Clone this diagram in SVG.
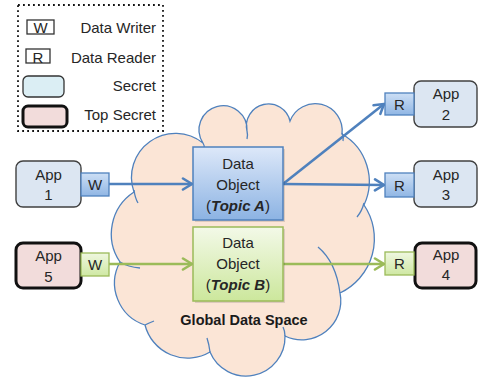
<svg xmlns="http://www.w3.org/2000/svg" width="478" height="379" viewBox="0 0 478 379">
<defs>
<linearGradient id="gBlue" x1="0" y1="0" x2="0" y2="1"><stop offset="0" stop-color="#dde8f9"/><stop offset="1" stop-color="#8cb3e3"/></linearGradient>
<linearGradient id="gGreen" x1="0" y1="0" x2="0" y2="1"><stop offset="0" stop-color="#f3f9e8"/><stop offset="1" stop-color="#cce79c"/></linearGradient>
<linearGradient id="gBlueS" x1="0" y1="0" x2="0" y2="1"><stop offset="0" stop-color="#cddff5"/><stop offset="1" stop-color="#90b6e4"/></linearGradient>
<linearGradient id="gGreenS" x1="0" y1="0" x2="0" y2="1"><stop offset="0" stop-color="#eff7e0"/><stop offset="1" stop-color="#cfe8a3"/></linearGradient>
<marker id="aBlue" markerUnits="userSpaceOnUse" markerWidth="14" markerHeight="14" viewBox="-12 -7 14 14" refX="0" refY="0" orient="auto"><path d="M-9,-5.5 L0,0 L-9,5.5" fill="none" stroke="#4f81bd" stroke-width="2.6" stroke-linejoin="miter" stroke-linecap="round"/></marker>
<marker id="aGreen" markerUnits="userSpaceOnUse" markerWidth="14" markerHeight="14" viewBox="-12 -7 14 14" refX="0" refY="0" orient="auto"><path d="M-9,-5.5 L0,0 L-9,5.5" fill="none" stroke="#9bbb59" stroke-width="2.6" stroke-linejoin="miter" stroke-linecap="round"/></marker>
</defs>
<style>
text{font-family:"Liberation Sans",Arial,sans-serif;fill:#262626;}
.t15{font-size:15px;text-anchor:middle;}
.leg{font-size:15px;text-anchor:end;}
.app{fill:#dce6f2;stroke:#404040;stroke-width:1.4;}
.top{fill:#f2dcdb;stroke:#111;stroke-width:3;}
.bw{fill:url(#gBlueS);stroke:#4f81bd;stroke-width:1.3;}
.gw{fill:url(#gGreenS);stroke:#9bbb59;stroke-width:1.3;}
.hook{fill:none;stroke:#4f81bd;stroke-width:1.3;}
.cb{stroke:#4f81bd;stroke-width:2.6;fill:none;}
.cg{stroke:#9bbb59;stroke-width:2.6;fill:none;}
.shadow{fill:#000;opacity:0.12;}
</style>
<rect width="478" height="379" fill="#fff"/>

<g id="legend">
<rect x="18" y="5" width="145" height="126" fill="none" stroke="#111" stroke-width="1.8" stroke-dasharray="1.8 3.2"/>
<rect x="27" y="20" width="27" height="14" fill="#fff" stroke="#333" stroke-width="1.3"/>
<text x="40.5" y="32.5" style="font-size:15px;text-anchor:middle">W</text>
<text class="leg" x="156" y="33">Data Writer</text>
<rect x="26" y="49" width="24" height="14" fill="#fff" stroke="#333" stroke-width="1.3"/>
<text x="38" y="62.5" style="font-size:15px;text-anchor:middle">R</text>
<text class="leg" x="156" y="63">Data Reader</text>
<rect x="23" y="76" width="41" height="21" rx="5" fill="#dbeef4" stroke="#333" stroke-width="1.3"/>
<text class="leg" x="156" y="91">Secret</text>
<rect x="23" y="106" width="44" height="21" rx="5" fill="#f2dcdb" stroke="#111" stroke-width="3"/>
<text class="leg" x="156" y="120">Top Secret</text>
</g>

<g id="cloud">
<path d="M134,192 A44,44 0 0 1 203,143 A24,24 0 1 1 247,131 A22,22 0 0 1 290,121 A27,27 0 0 1 342,134 A55,55 0 0 1 364,205 A60,60 0 0 1 340,293 A39,39 0 0 1 285,336 A39,39 0 0 1 210,352 A44,44 0 0 1 145,325 A44,44 0 0 1 120,262 A50,50 0 0 1 134,192 Z" fill="#fbe5d6" stroke="#4f81bd" stroke-width="1.3"/>
<path class="hook" d="M134,190 Q135,198 138,203"/>
<path class="hook" d="M120,262 Q128,267 140,268"/>
<path class="hook" d="M145,325 Q149,323 154,321"/>
<path class="hook" d="M210,352 Q209,344 207,338"/>
<path class="hook" d="M285,336 Q285,331 283,327"/>
<path class="hook" d="M340,293 Q336,262 318,247"/>
<path class="hook" d="M364,203 Q362,211 357,217"/>
<path class="hook" d="M342,133 Q344,137 343,141"/>
<path class="hook" d="M247,131 Q248,135 247,139"/>
<path class="hook" d="M203,143 Q205,146 204,149"/>
<text x="244" y="325" style="font-size:14.5px;font-weight:bold;text-anchor:middle;fill:#1a1a1a">Global Data Space</text>
</g>

<g id="connectors">
<line class="cb" x1="109" y1="184" x2="192" y2="184" marker-end="url(#aBlue)"/>
<line class="cg" x1="109" y1="264" x2="192" y2="264" marker-end="url(#aGreen)"/>
<line class="cb" x1="283" y1="184" x2="384" y2="104" marker-end="url(#aBlue)"/>
<line class="cb" x1="283" y1="184" x2="384" y2="185" marker-end="url(#aBlue)"/>
<line class="cg" x1="283" y1="264" x2="384" y2="264" marker-end="url(#aGreen)"/>
</g>

<g id="topicA">
<rect class="shadow" x="195" y="149" width="90" height="73"/>
<rect x="193" y="147" width="90" height="73" fill="url(#gBlue)" stroke="#4f81bd" stroke-width="1.5"/>
<text class="t15" x="238" y="169">Data</text>
<text class="t15" x="238" y="190">Object</text>
<text class="t15" x="238" y="211">(<tspan font-style="italic" font-weight="bold">Topic A</tspan>)</text>
</g>
<g id="topicB">
<rect class="shadow" x="195" y="229" width="90" height="74"/>
<rect x="193" y="227" width="90" height="74" fill="url(#gGreen)" stroke="#9bbb59" stroke-width="1.5"/>
<text class="t15" x="238" y="248">Data</text>
<text class="t15" x="238" y="269">Object</text>
<text class="t15" x="238" y="290">(<tspan font-style="italic" font-weight="bold">Topic B</tspan>)</text>
</g>

<g id="app1">
<rect class="app" x="16" y="161" width="65" height="46" rx="7"/>
<text class="t15" x="48.5" y="180">App</text>
<text class="t15" x="48.5" y="200">1</text>
<rect class="bw" x="81" y="173" width="28" height="23"/>
<text class="t15" x="95" y="190">W</text>
</g>
<g id="app5">
<rect class="top" x="16" y="243" width="65" height="45" rx="7"/>
<text class="t15" x="48.5" y="261">App</text>
<text class="t15" x="48.5" y="282">5</text>
<rect class="gw" x="81" y="253" width="28" height="23"/>
<text class="t15" x="95" y="270">W</text>
</g>
<g id="app2">
<rect class="app" x="414" y="81" width="63" height="46" rx="7"/>
<text class="t15" x="446" y="99">App</text>
<text class="t15" x="446" y="120">2</text>
<rect class="bw" x="385" y="93" width="29" height="22"/>
<text class="t15" x="399.5" y="110">R</text>
</g>
<g id="app3">
<rect class="app" x="414" y="161" width="63" height="46" rx="7"/>
<text class="t15" x="446" y="180">App</text>
<text class="t15" x="446" y="200">3</text>
<rect class="bw" x="385" y="173" width="29" height="24"/>
<text class="t15" x="399.5" y="191">R</text>
</g>
<g id="app4">
<rect class="top" x="415" y="243" width="61" height="45" rx="7"/>
<text class="t15" x="446" y="260">App</text>
<text class="t15" x="446" y="280">4</text>
<rect class="gw" x="385" y="252" width="29" height="23"/>
<text class="t15" x="399.5" y="269">R</text>
</g>
</svg>
